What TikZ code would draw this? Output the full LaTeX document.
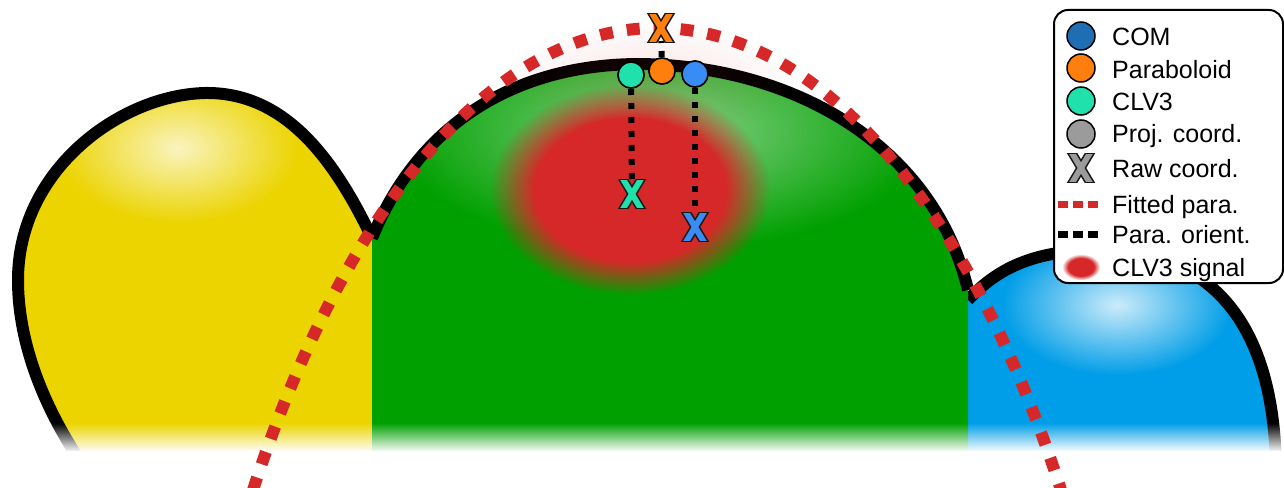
\documentclass[tikz,border=0pt]{standalone}
\usepackage{fontspec}
\setmainfont{Liberation Sans}
\usetikzlibrary{fadings}

\definecolor{cellyellow}{RGB}{236,212,0}
\definecolor{cellgreen}{RGB}{0,160,0}
\definecolor{cellblue}{RGB}{0,158,232}
\definecolor{signalred}{RGB}{214,40,40}
\definecolor{comblue}{RGB}{31,110,180}
\definecolor{comdot}{RGB}{58,140,245}
\definecolor{paraorange}{RGB}{255,127,14}
\definecolor{clvteal}{RGB}{32,224,172}
\definecolor{projgray}{RGB}{155,155,155}

% soft radial fadings: solid core, smooth edge
\pgfdeclareradialshading{signalshade}{\pgfpointorigin}{color(0bp)=(pgftransparent!0); color(17bp)=(pgftransparent!0); color(25bp)=(pgftransparent!100); color(50bp)=(pgftransparent!100)}
\pgfdeclarefading{signalfade}{\pgfuseshading{signalshade}}
\pgfdeclareradialshading{glowshade}{\pgfpointorigin}{color(0bp)=(pgftransparent!0); color(25bp)=(pgftransparent!100); color(50bp)=(pgftransparent!100)}
\pgfdeclarefading{glow}{\pgfuseshading{glowshade}}
\tikzfading[name=fadedown, top color=transparent!100, bottom color=transparent!0]

\tikzset{
  outline/.style={draw=black, line width=12, line join=round},
  fitted/.style={draw=signalred, line width=12, dash pattern=on 13 off 14},
  orient/.style={draw=black, line width=6, dash pattern=on 6 off 8},
  dotmark/.style={circle, draw=black, line width=1.5, minimum size=26, inner sep=0},
  legdot/.style={circle, draw=black, line width=1.5, minimum size=28, inner sep=0},
  legtext/.style={anchor=base west, inner sep=0, font=\fontsize{25}{30}\selectfont},
  legendbox/.style={draw=black, line width=2, fill=white, rounded corners=14, anchor=north west, minimum width=229, minimum height=273, inner sep=0},
  % an outlined letter-like cross with flat ends
  pics/rawx/.style={code={
    \begin{scope}
      \clip (-16,-14.6) rectangle (16,14.6);
      \draw[line width=9, black!90] (-10.5,-17.5) -- (10.5,17.5) (-10.5,17.5) -- (10.5,-17.5);
    \end{scope}
    \begin{scope}
      \clip (-16,-13.1) rectangle (16,13.1);
      \draw[line width=5.8, #1] (-10.5,-17.5) -- (10.5,17.5) (-10.5,17.5) -- (10.5,-17.5);
    \end{scope}
  }},
}

\begin{document}
\begin{tikzpicture}[x=1pt,y=-1pt]
\useasboundingbox (0,0) rectangle (1284,487);
\clip (0,0) rectangle (1284,487);
\fill[white] (0,0) rectangle (1284,487);

% left cell
\begin{scope}
  \clip (372,238) .. controls (330,150) and (280,92) .. (205,93)
        .. controls (120,95) and (18,170) .. (18,280)
        .. controls (18,350) and (50,420) .. (90,475) -- (372,475) -- cycle;
  \fill[cellyellow] (0,0) rectangle (400,487);
  \fill[white, opacity=0.75, path fading=glow] (178,148) ellipse [x radius=120, y radius=75];
\end{scope}
\draw[outline] (372,238) .. controls (330,150) and (280,92) .. (205,93)
      .. controls (120,95) and (18,170) .. (18,280)
      .. controls (18,350) and (50,420) .. (90,475);

% right cell
\begin{scope}
  \clip (968,300) .. controls (1000,265) and (1040,250) .. (1100,250)
        .. controls (1185,250) and (1276,295) .. (1276,475) -- (968,475) -- cycle;
  \fill[cellblue] (950,240) rectangle (1284,487);
  \fill[white, opacity=0.8, path fading=glow] (1117,305) ellipse [x radius=115, y radius=70];
\end{scope}
\draw[outline] (968,300) .. controls (1000,265) and (1040,250) .. (1100,250)
      .. controls (1185,250) and (1276,295) .. (1276,475);

% central cell with signal
\begin{scope}
  \clip (372,475) -- (372,238) .. controls (420,120) and (520,64) .. (640,64)
        .. controls (800,66) and (935,150) .. (968,290) -- (968,475) -- cycle;
  \fill[cellgreen] (360,50) rectangle (980,487);
  \fill[white, opacity=0.55, path fading=glow] (660,130) ellipse [x radius=270, y radius=120];
  \fill[signalred, path fading=signalfade] (630,190) ellipse [x radius=140, y radius=105];
\end{scope}
\draw[outline] (372,238) .. controls (420,120) and (520,64) .. (640,64)
      .. controls (800,66) and (935,150) .. (968,290);
\fill[signalred, opacity=0.12, path fading=glow] (650,80) ellipse [x radius=150, y radius=60];

% fade out towards the bottom
\fill[white, path fading=fadedown] (0,423) rectangle (1284,452);
\fill[white] (0,451) rectangle (1284,487);

% fitted paraboloid
\draw[fitted] (657,1153) ellipse [x radius=500, y radius=1125];

% projected and raw coordinates
\coordinate (parax) at (661,28);
\coordinate (tealx) at (632,194);
\coordinate (comx) at (695,227);
\node[dotmark, fill=clvteal] (tealdot) at (631,75) {};
\node[dotmark, fill=paraorange] (paradot) at (662,71) {};
\node[dotmark, fill=comdot] (comdot) at (695,74) {};
\draw[orient, shorten >=13] (paradot.center) -- (parax);
\draw[orient, shorten >=13] (tealdot.center) -- (tealx);
\draw[orient, shorten >=13] (comdot.center) -- (comx);
\node[dotmark, fill=clvteal] at (tealdot) {};
\node[dotmark, fill=paraorange] at (paradot) {};
\node[dotmark, fill=comdot] at (comdot) {};
\pic at (parax) {rawx=paraorange};
\pic at (tealx) {rawx=clvteal};
\pic at (comx) {rawx=comdot};

% legend
\node[legendbox] (legend) at (1053,9) {};
\node[legdot, fill=comblue] (lcom) at (1081,36) {};
\node[legdot, fill=paraorange] (lpara) at (1081,68) {};
\node[legdot, fill=clvteal] (lclv) at (1081,101) {};
\node[legdot, fill=projgray] (lproj) at (1081,134) {};
\coordinate (lraw) at (1081,168);
\pic at (lraw) {rawx=projgray};
\coordinate (lfitA) at (1058,204);
\coordinate (lfitB) at (1100,204);
\draw[draw=signalred, line width=7, dash pattern=on 10 off 5] (lfitA) -- (lfitB);
\coordinate (lorA) at (1058,234);
\coordinate (lorB) at (1100,234);
\draw[draw=black, line width=7, dash pattern=on 10 off 5] (lorA) -- (lorB);
\coordinate (lsig) at (1081,267);
\fill[signalred, path fading=signalfade] (lsig) ellipse [x radius=19, y radius=13];

\node[legtext] (tcom) at (1112,46) {COM};
\node[legtext] (tpara) at (1112,78) {Paraboloid};
\node[legtext] (tclv) at (1112,110) {CLV3};
\node[legtext] (tproj) at (1112,142) {Proj. coord.};
\node[legtext] (traw) at (1112,177) {Raw coord.};
\node[legtext] (tfit) at (1112,213) {Fitted para.};
\node[legtext] (tor) at (1112,243) {Para. orient.};
\node[legtext] (tsig) at (1112,276) {CLV3 signal};
\end{tikzpicture}
\end{document}
